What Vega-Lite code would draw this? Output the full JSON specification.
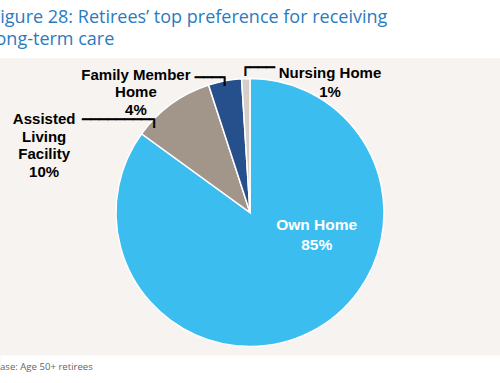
{
  "$schema": "https://vega.github.io/schema/vega-lite/v6.json",
  "width": 500,
  "height": 309,
  "autosize": {"type": "none"},
  "padding": {"left": 0, "right": 0, "top": 58, "bottom": 16},
  "background": "white",
  "view": {"fill": "#f6f3f0", "stroke": null},
  "title": {
    "text": ["Figure 28: Retirees’ top preference for receiving", "long-term care"],
    "anchor": "start",
    "frame": "group",
    "font": "Open Sans",
    "fontSize": 18,
    "fontWeight": "normal",
    "color": "#2a7bbf",
    "lineHeight": 22.5,
    "offset": 9,
    "dx": -9
  },
  "data": {
    "values": [
      {"category": "Own Home", "value": 85, "rank": 1, "label": "Own Home\n85%"},
      {"category": "Assisted Living Facility", "value": 10, "rank": 2, "label": "Assisted\nLiving\nFacility\n10%"},
      {"category": "Family Member Home", "value": 4, "rank": 3, "label": "Family Member\nHome\n4%"},
      {"category": "Nursing Home", "value": 1, "rank": 4, "label": "Nursing Home\n1%"}
    ]
  },
  "layer": [
    {
      "mark": {"type": "point", "opacity": 0},
      "encoding": {
        "x": {
          "field": "value",
          "type": "quantitative",
          "axis": {
            "orient": "bottom",
            "offset": -6,
            "domain": true,
            "domainColor": "white",
            "domainWidth": 12,
            "domainCap": "butt",
            "ticks": false,
            "labels": false,
            "grid": false,
            "title": "Base: Age 50+ retirees",
            "titleX": -6.7,
            "titleY": 5.7,
            "titleAlign": "left",
            "titleAnchor": "start",
            "titleBaseline": "middle",
            "titleFont": "Open Sans",
            "titleFontSize": 9.6,
            "titleFontWeight": "normal",
            "titleColor": "#666666"
          }
        }
      }
    },
    {
      "mark": {"type": "arc", "outerRadius": 134, "stroke": "white", "strokeWidth": 1.5},
      "encoding": {
        "theta": {"field": "value", "type": "quantitative", "stack": true},
        "order": {"field": "rank", "type": "quantitative"},
        "color": {
          "field": "category",
          "type": "nominal",
          "scale": {
            "domain": ["Own Home", "Assisted Living Facility", "Family Member Home", "Nursing Home"],
            "range": ["#3bbdf0", "#a2968a", "#25508b", "#d5cec8"]
          },
          "legend": null
        }
      }
    },
    {
      "mark": {"type": "text", "radius": 50, "dx": 44, "dy": -32, "align": "center", "baseline": "middle", "lineBreak": "\n", "lineHeight": 20, "font": "Liberation Sans", "fontWeight": "bold", "fontSize": 15.5, "fill": "white"},
      "encoding": {
        "theta": {"field": "value", "type": "quantitative", "stack": true},
        "order": {"field": "rank", "type": "quantitative"},
        "detail": {"field": "category", "type": "nominal"},
        "text": {"condition": {"test": "datum.category === 'Own Home'", "field": "label", "type": "nominal"}, "value": ""}
      }
    },
    {
      "mark": {"type": "text", "radius": 175, "dx": -103, "dy": 48.2, "align": "center", "baseline": "middle", "lineBreak": "\n", "lineHeight": 17.5, "font": "Liberation Sans", "fontWeight": "bold", "fontSize": 15, "fill": "black"},
      "encoding": {
        "theta": {"field": "value", "type": "quantitative", "stack": true},
        "order": {"field": "rank", "type": "quantitative"},
        "detail": {"field": "category", "type": "nominal"},
        "text": {"condition": {"test": "datum.category === 'Assisted Living Facility'", "field": "label", "type": "nominal"}, "value": ""}
      }
    },
    {
      "mark": {"type": "text", "radius": 150, "dx": -86, "dy": 9.8, "align": "center", "baseline": "middle", "lineBreak": "\n", "lineHeight": 17.5, "font": "Liberation Sans", "fontWeight": "bold", "fontSize": 15, "fill": "black"},
      "encoding": {
        "theta": {"field": "value", "type": "quantitative", "stack": true},
        "order": {"field": "rank", "type": "quantitative"},
        "detail": {"field": "category", "type": "nominal"},
        "text": {"condition": {"test": "datum.category === 'Family Member Home'", "field": "label", "type": "nominal"}, "value": ""}
      }
    },
    {
      "mark": {"type": "text", "radius": 150, "dx": 84.7, "dy": 10.5, "align": "center", "baseline": "middle", "lineBreak": "\n", "lineHeight": 18.5, "font": "Liberation Sans", "fontWeight": "bold", "fontSize": 15, "fill": "black"},
      "encoding": {
        "theta": {"field": "value", "type": "quantitative", "stack": true},
        "order": {"field": "rank", "type": "quantitative"},
        "detail": {"field": "category", "type": "nominal"},
        "text": {"condition": {"test": "datum.category === 'Nursing Home'", "field": "label", "type": "nominal"}, "value": ""}
      }
    },
    {
      "mark": {"type": "text", "radius": 150, "dx": -79.5, "dy": 32.4, "align": "left", "baseline": "alphabetic", "font": "DejaVu Sans Mono", "fontSize": 14, "fill": "black", "stroke": "black", "strokeWidth": 0.8},
      "encoding": {
        "theta": {"field": "value", "type": "quantitative", "stack": true},
        "order": {"field": "rank", "type": "quantitative"},
        "detail": {"field": "category", "type": "nominal"},
        "text": {"condition": {"test": "datum.category === 'Assisted Living Facility'", "value": "────────┐"}, "value": ""}
      }
    },
    {
      "mark": {"type": "text", "radius": 150, "dx": -26.9, "dy": 16.4, "align": "left", "baseline": "alphabetic", "font": "DejaVu Sans Mono", "fontSize": 14, "fill": "black", "stroke": "black", "strokeWidth": 0.8},
      "encoding": {
        "theta": {"field": "value", "type": "quantitative", "stack": true},
        "order": {"field": "rank", "type": "quantitative"},
        "detail": {"field": "category", "type": "nominal"},
        "text": {"condition": {"test": "datum.category === 'Family Member Home'", "value": "───┐"}, "value": ""}
      }
    },
    {
      "mark": {"type": "text", "radius": 150, "dx": -4.2, "dy": 9.5, "align": "left", "baseline": "alphabetic", "font": "DejaVu Sans Mono", "fontSize": 14, "fill": "black", "stroke": "black", "strokeWidth": 0.8},
      "encoding": {
        "theta": {"field": "value", "type": "quantitative", "stack": true},
        "order": {"field": "rank", "type": "quantitative"},
        "detail": {"field": "category", "type": "nominal"},
        "text": {"condition": {"test": "datum.category === 'Nursing Home'", "value": "┌───"}, "value": ""}
      }
    }
  ]
}
